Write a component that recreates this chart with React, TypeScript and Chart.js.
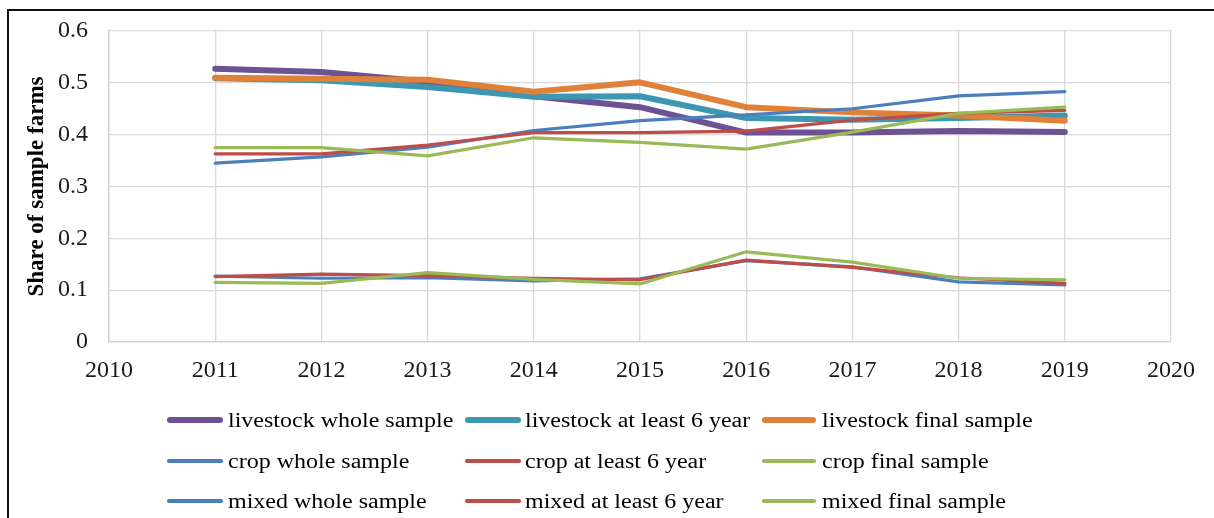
import React, { useEffect, useRef } from "react";
import { Chart, registerables } from "chart.js";

Chart.register(...registerables);

const years = [2011, 2012, 2013, 2014, 2015, 2016, 2017, 2018, 2019];

const livestockWhole = [0.527, 0.521, 0.502, 0.474, 0.453, 0.404, 0.404, 0.407, 0.405];
const livestockAtLeast6 = [0.509, 0.505, 0.492, 0.473, 0.474, 0.432, 0.429, 0.432, 0.437];
const livestockFinal = [0.510, 0.508, 0.506, 0.483, 0.501, 0.453, 0.443, 0.437, 0.427];
const cropWhole = [0.345, 0.357, 0.376, 0.408, 0.427, 0.438, 0.450, 0.475, 0.483];
const cropAtLeast6 = [0.363, 0.363, 0.380, 0.404, 0.404, 0.407, 0.428, 0.441, 0.447];
const cropFinal = [0.375, 0.375, 0.359, 0.394, 0.385, 0.372, 0.405, 0.441, 0.453];
const mixedWhole = [0.127, 0.123, 0.124, 0.118, 0.122, 0.157, 0.145, 0.116, 0.110];
const mixedAtLeast6 = [0.126, 0.131, 0.128, 0.123, 0.120, 0.158, 0.144, 0.124, 0.113];
const mixedFinal = [0.115, 0.113, 0.134, 0.121, 0.112, 0.174, 0.154, 0.123, 0.120];

const xTickValues = [2010, 2011, 2012, 2013, 2014, 2015, 2016, 2017, 2018, 2019, 2020];
const yTickLabels = ["0", "0.1", "0.2", "0.3", "0.4", "0.5", "0.6"];

const seriesLabels = [
  "livestock whole sample",
  "livestock at least 6 year",
  "livestock final sample",
  "crop whole sample",
  "crop at least 6 year",
  "crop final sample",
  "mixed whole sample",
  "mixed at least 6 year",
  "mixed final sample",
];
const seriesValues = [
  livestockWhole, livestockAtLeast6, livestockFinal,
  cropWhole, cropAtLeast6, cropFinal,
  mixedWhole, mixedAtLeast6, mixedFinal,
];
const seriesColors = [
  "#6c5292", "#3c98b0", "#e0813a",
  "#4a7ebd", "#be4d4a", "#99ba56",
  "#4a7ebd", "#be4d4a", "#99ba56",
];
const seriesWidths = [6, 6, 6, 3.2, 3.2, 3.2, 3.2, 3.2, 3.2];

const FONT = "'Liberation Serif', 'Times New Roman', serif";

// legend layout (columns / rows)
const legendCols = [
  { lineL: 167, lineR: 223, textL: 228 },
  { lineL: 465, lineR: 521, textL: 525 },
  { lineL: 762, lineR: 816, textL: 822 },
];
const legendRows = [420, 461, 501];

export default function App() {
  const canvasRef = useRef<HTMLCanvasElement | null>(null);

  useEffect(() => {
    document.body.style.margin = "0";
    const ctx = canvasRef.current;
    if (!ctx) return;
    const chart = new Chart(ctx, {
      type: "line",
      data: {
        datasets: seriesLabels.map((label, i) => ({
          label,
          data: years.map((y, j) => ({ x: y, y: seriesValues[i][j] })),
          borderColor: seriesColors[i],
          backgroundColor: seriesColors[i],
          borderWidth: seriesWidths[i],
          pointRadius: 0,
          fill: false,
          tension: 0,
          borderCapStyle: "round",
          borderJoinStyle: "round",
          order: seriesLabels.length - i,
        })),
      },
      options: {
        animation: false,
        responsive: true,
        maintainAspectRatio: false,
        layout: { padding: { left: 9, top: 31, right: 43, bottom: 134 } },
        plugins: {
          legend: { display: false },
          tooltip: { enabled: false },
        },
        scales: {
          x: {
            type: "linear",
            min: 2010,
            max: 2020,
            afterBuildTicks: (scale: any) => {
              scale.ticks = xTickValues.map((v) => ({ value: v }));
            },
            afterFit: (scale: any) => {
              scale.height = 42;
              scale.paddingLeft = 0;
              scale.paddingRight = 0;
            },
            ticks: {
              stepSize: 1,
              padding: 14,
              color: "#1a1a1a",
              font: { family: FONT, size: 24 },
              callback: (v: any) => String(v),
              maxRotation: 0,
            },
            grid: { color: "#d9d9d9", lineWidth: 1.3, drawTicks: false },
            border: { color: "#d0d0d0", width: 1.3 },
          },
          y: {
            min: 0,
            max: 0.6,
            afterFit: (scale: any) => {
              scale.width = 100;
              scale.paddingTop = 0;
              scale.paddingBottom = 0;
            },
            ticks: {
              stepSize: 0.1,
              padding: 21,
              color: "#1a1a1a",
              font: { family: FONT, size: 24 },
              callback: (v: any) => yTickLabels[Math.round(Number(v) * 10)] ?? "",
            },
            title: {
              display: true,
              text: "Share of sample farms",
              color: "#000",
              font: { family: FONT, size: 23, weight: "bold" },
              padding: { top: 14, bottom: 0 },
            },
            grid: { color: "#d9d9d9", lineWidth: 1.3, drawTicks: false },
            border: { color: "#d0d0d0", width: 1.3 },
          },
        },
      },
    });
    return () => chart.destroy();
  }, []);

  return (
    <div style={{ position: "absolute", left: 0, top: 0, width: 1214, height: 518, overflow: "hidden", background: "#fff" }}>
      <div
        style={{
          position: "absolute",
          left: 7,
          top: 9,
          width: 1300,
          height: 600,
          border: "2px solid #111",
          boxSizing: "border-box",
        }}
      />
      <div style={{ position: "absolute", left: 0, top: 0, width: 1214, height: 518 }}>
        <canvas ref={canvasRef} />
      </div>
      {seriesLabels.map((label, i) => {
        const col = legendCols[i % 3];
        const rowY = legendRows[Math.floor(i / 3)];
        const w = seriesWidths[i] >= 5 ? 6 : 3.5;
        return (
          <React.Fragment key={label}>
            <div
              style={{
                position: "absolute",
                left: col.lineL,
                top: rowY - w / 2,
                width: col.lineR - col.lineL,
                height: w,
                background: seriesColors[i],
                borderRadius: w / 2,
              }}
            />
            <div
              style={{
                position: "absolute",
                left: col.textL,
                top: rowY - 10,
                height: 20,
                lineHeight: "20px",
                fontFamily: FONT,
                fontSize: 20,
                color: "#000",
                whiteSpace: "nowrap",
                transform: "scaleX(1.2)",
                transformOrigin: "left center",
              }}
            >
              {label}
            </div>
          </React.Fragment>
        );
      })}
    </div>
  );
}
